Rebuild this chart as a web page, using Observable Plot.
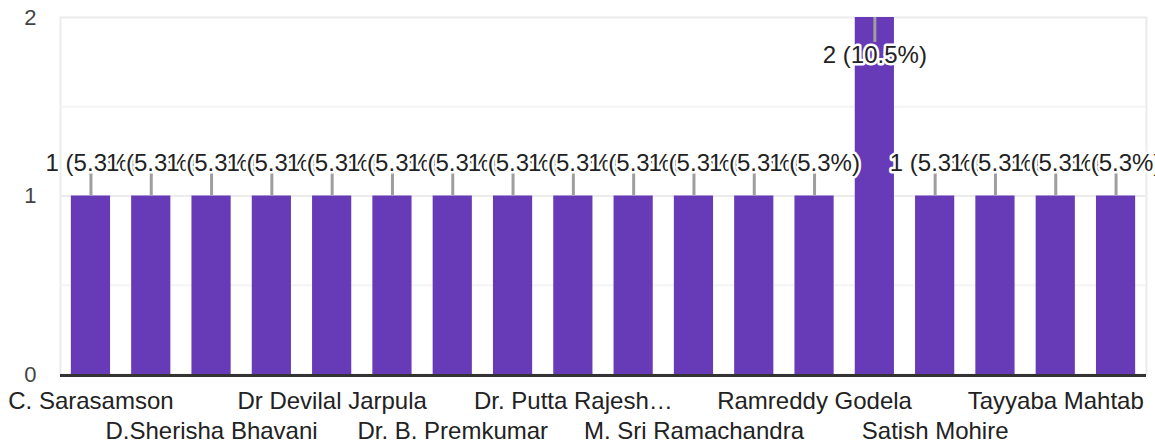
<!DOCTYPE html>
<html>
<head>
<meta charset="utf-8">
<script src="https://cdn.jsdelivr.net/npm/d3@7"></script>
<script src="https://cdn.jsdelivr.net/npm/@observablehq/plot@0.6"></script>
<style>
  html, body { margin: 0; padding: 0; background: #fff; overflow: hidden; }
  #chart svg { display: block; }
</style>
</head>
<body>
<div id="chart"></div>
<script>
// Categories (only every other name is shown on the axis in the reference)
const tickLabels = [
  "C. Sarasamson", "", "D.Sherisha Bhavani", "", "Dr Devilal Jarpula", "",
  "Dr. B. Premkumar", "", "Dr. Putta Rajesh…", "", "M. Sri Ramachandra", "",
  "Ramreddy Godela", "", "Satish Mohire", "", "Tayyaba Mahtab", ""
];
const categories = tickLabels.map((_, i) => i);
// Series values (counts)
const counts = [1, 1, 1, 1, 1, 1, 1, 1, 1, 1, 1, 1, 1, 2, 1, 1, 1, 1];
const yTicks = [0, 1, 2];
const minorGrid = [0.5, 1.5];
const majorGrid = [1];
const row1Ticks = [0, 4, 8, 12, 16];
const row2Ticks = [2, 6, 10, 14];

const total = d3.sum(counts);
const data = categories.map((c, i) => ({
  cat: c,
  value: counts[i],
  label: `${counts[i]} (${(counts[i] / total * 100).toFixed(1)}%)`
}));
const maxVal = d3.max(counts);
const low = data.filter(d => d.value < maxVal);
const high = data.filter(d => d.value === maxVal);

const font = "'Liberation Sans', Arial, Helvetica, sans-serif";

const chart = Plot.plot({
  width: 1155,
  height: 447,
  marginLeft: 60,
  marginRight: 9,
  marginTop: 17,
  marginBottom: 73,
  style: { fontFamily: font, fontSize: "24px", color: "#222", background: "#fff", overflow: "visible" },
  x: { type: "band", domain: categories, paddingInner: 0.35, paddingOuter: 0.18, round: false, axis: null },
  y: { domain: [0, 2], ticks: yTicks, tickSize: 0, tickPadding: 24, label: null, tickFormat: d3.format("d") },
  marks: [
    Plot.frame({ stroke: "#ebebeb", strokeWidth: 2 }),
    Plot.ruleY(minorGrid, { stroke: "#f4f4f4", strokeWidth: 2 }),
    Plot.ruleY(majorGrid, { stroke: "#ebebeb", strokeWidth: 2 }),
    Plot.barY(data, { x: "cat", y: "value", fill: "#673AB7" }),
    Plot.ruleY([0], { stroke: "#333", strokeWidth: 3, dy: 1 }),
    Plot.axisY({ ticks: yTicks, tickSize: 0, tickPadding: 24, fontSize: 22, fill: "#444", label: null, tickFormat: d3.format("d") }),
    Plot.axisX(row1Ticks, { tickSize: 0, tickPadding: 17, fontSize: 24, fill: "#222", label: null, tickFormat: i => tickLabels[i] }),
    Plot.axisX(row2Ticks, { tickSize: 0, tickPadding: 47, fontSize: 24, fill: "#222", label: null, tickFormat: i => tickLabels[i] }),
    // leader lines
    Plot.ruleX(low, { x: "cat", y1: "value", y2: "value", insetTop: 0, insetBottom: 23, stroke: "#9e9e9e", strokeWidth: 3 }),
    Plot.ruleX(high, { x: "cat", y1: "value", y2: "value", insetTop: 25, insetBottom: 0, stroke: "#9e9e9e", strokeWidth: 3 }),
    // annotations
    Plot.text(low, { x: "cat", y: "value", text: "label", dy: -33, fontSize: 24, fill: "#222", stroke: "white", strokeWidth: 5, paintOrder: "stroke", lineAnchor: "middle" }),
    Plot.text(high, { x: "cat", y: "value", text: "label", dy: 38, fontSize: 24, fill: "#222", stroke: "white", strokeWidth: 5, paintOrder: "stroke", lineAnchor: "middle" })
  ]
});
document.getElementById("chart").appendChild(chart);
</script>
</body>
</html>
